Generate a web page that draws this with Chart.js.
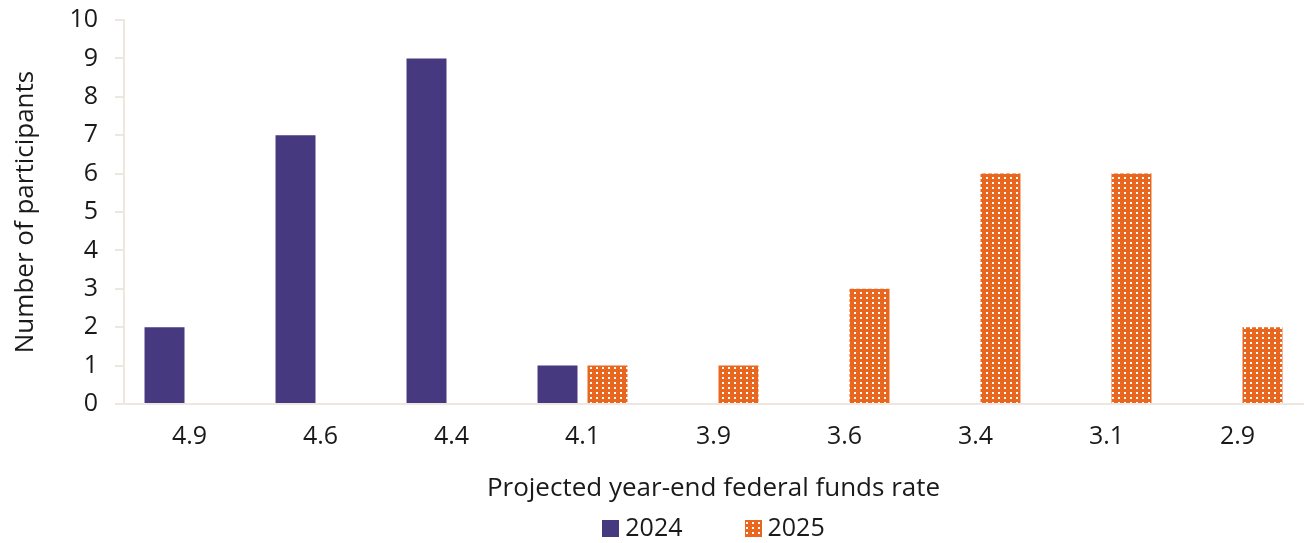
<!DOCTYPE html>
<html>
<head>
<meta charset="utf-8">
<script src="https://cdn.jsdelivr.net/npm/chart.js@4/dist/chart.umd.min.js"></script>
<style>
  html, body { margin: 0; padding: 0; background: #ffffff; }
  #wrap { width: 1304px; height: 543px; position: relative; }
</style>
</head>
<body>
<div id="wrap"><canvas id="c" width="1304" height="543"></canvas></div>
<script>
const categories = ['4.9', '4.6', '4.4', '4.1', '3.9', '3.6', '3.4', '3.1', '2.9'];
const series2024 = [2, 7, 9, 1, null, null, null, null, null];
const series2025 = [null, null, null, 1, 1, 3, 6, 6, 2];
const yTicks = [0, 1, 2, 3, 4, 5, 6, 7, 8, 9, 10];

const PURPLE = '#46397f';
const ORANGE = '#e9661f';
const AXIS = '#ede7df';
const TEXT = '#1a1a1a';
const FONT = '"Open Sans", sans-serif';
const TICK_SIZE = 25;
const TITLE_SIZE = 26;

function makePattern() {
  const t = document.createElement('canvas');
  t.width = 6; t.height = 5;
  const g = t.getContext('2d');
  g.fillStyle = ORANGE;
  g.fillRect(0, 0, 6, 5);
  g.fillStyle = '#ffffff';
  g.fillRect(2, 2, 2, 2);
  return g.createPattern(t, 'repeat');
}
const pattern = makePattern();

// Custom legend drawn below the x axis title
const bottomLegend = {
  id: 'bottomLegend',
  afterDraw(chart) {
    const ctx = chart.ctx;
    const area = chart.chartArea;
    const box = 17, gapText = 6, gapItems = 62;
    ctx.save();
    ctx.font = TICK_SIZE + 'px ' + FONT;
    ctx.textBaseline = 'middle';
    const items = chart.data.datasets.map(d => ({ text: d.label, fill: d.backgroundColor, w: ctx.measureText(d.label).width }));
    const total = items.reduce((a, it) => a + box + gapText + it.w, 0) + gapItems * (items.length - 1);
    let x = (area.left + area.right) / 2 - total / 2;
    const cy = 528;
    items.forEach(it => {
      ctx.fillStyle = it.fill;
      ctx.fillRect(Math.round(x), Math.round(cy - box / 2), box, box);
      ctx.fillStyle = TEXT;
      ctx.textAlign = 'left';
      ctx.fillText(it.text, x + box + gapText, cy + 1);
      x += box + gapText + it.w + gapItems;
    });
    ctx.restore();
  }
};

Chart.defaults.font.family = FONT;
Chart.defaults.color = TEXT;

new Chart(document.getElementById('c'), {
  type: 'bar',
  data: {
    labels: categories,
    datasets: [
      { label: '2024', data: series2024, backgroundColor: PURPLE, categoryPercentage: 0.763, barPercentage: 0.8 },
      { label: '2025', data: series2025, backgroundColor: pattern, categoryPercentage: 0.763, barPercentage: 0.8 }
    ]
  },
  options: {
    responsive: false,
    animation: false,
    layout: { padding: { left: 0, right: 1, top: 0, bottom: 29 } },
    plugins: {
      tooltip: { enabled: false },
      legend: { display: false }
    },
    scales: {
      x: {
        grid: { display: false },
        border: { display: true, color: AXIS, width: 2 },
        ticks: { padding: 10, font: { size: TICK_SIZE, family: FONT }, color: TEXT },
        title: { display: true, text: 'Projected year-end federal funds rate', font: { size: TITLE_SIZE, family: FONT }, color: TEXT, padding: { top: 10, bottom: 10 } },
        afterFit: (s) => { s.height = 110; }
      },
      y: {
        min: 0, max: 10,
        afterBuildTicks: (s) => { s.ticks = yTicks.map(v => ({ value: v })); },
        grid: { drawOnChartArea: false, drawTicks: true, tickLength: 9, color: AXIS, lineWidth: 2 },
        border: { display: true, color: AXIS, width: 2 },
        ticks: { padding: 17, font: { size: TICK_SIZE, family: FONT }, color: TEXT },
        title: { display: true, text: 'Number of participants', font: { size: TITLE_SIZE, family: FONT }, color: TEXT, padding: { top: 10, bottom: 0 } },
        afterFit: (s) => { s.width = 124; s.paddingTop = 20; s.paddingBottom = 0; }
      }
    }
  },
  plugins: [bottomLegend]
});
</script>
</body>
</html>
